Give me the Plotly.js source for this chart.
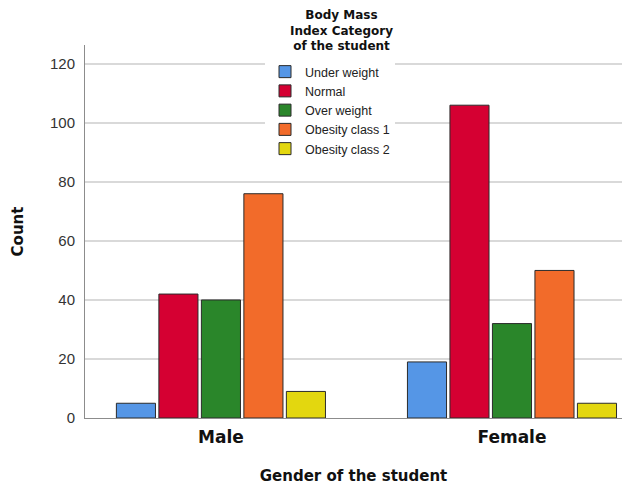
<!DOCTYPE html>
<html><head><meta charset="utf-8">
<script src="https://cdn.plot.ly/plotly-3.0.1.min.js"></script>
<style>html,body{margin:0;padding:0;background:#fff}#chart{width:624px;height:485px}</style>
</head><body><div id="chart"></div>
<script>
var genders = ["Male", "Female"];
var categories = ["Under weight", "Normal", "Over weight", "Obesity class 1", "Obesity class 2"];
var underWeight = [5, 19];
var normal = [42, 106];
var overWeight = [40, 32];
var obesity1 = [76, 50];
var obesity2 = [9, 5];
var seriesValues = [underWeight, normal, overWeight, obesity1, obesity2];
var colors = ["#5596E6", "#D50032", "#2A862A", "#F26B2A", "#E3D70F"];
var legendTitle = "Body Mass<br>Index Category<br>of the student";

var bold = "DejaVu Sans, Verdana, sans-serif";
var plain = "Liberation Sans, Arial, sans-serif";

var traces = categories.map(function(c, i){
  return {type:"bar", name:c, x:genders, y:seriesValues[i],
    marker:{color:colors[i], line:{color:"#2b2b2b", width:1}}};
});

var layout = {
  width:624, height:485,
  margin:{l:85, r:2, t:45, b:67},
  paper_bgcolor:"#fff", plot_bgcolor:"#fff",
  font:{family:plain, color:"#222"},
  barmode:"group", bargap:0.27, bargroupgap:0.08,
  xaxis:{type:"category", range:[-0.467, 1.378], showgrid:false, showline:true, linecolor:"#8c8c8c", linewidth:1,
    ticks:"", ticklabelstandoff:4, tickfont:{size:17, color:"#111", family:bold, weight:"bold"},
    title:{text:"Gender of the student", font:{size:15, color:"#111", family:bold, weight:"bold"}, standoff:25}},
  yaxis:{range:[0, 126.4], tickvals:[0,20,40,60,80,100,120], showgrid:true, gridcolor:"#d9d9d9", gridwidth:2,
    showline:true, linecolor:"#8c8c8c", linewidth:1, zeroline:false, ticks:"", ticklen:0, ticklabelstandoff:6,
    tickfont:{size:15, color:"#333", family:plain},
    title:{text:"Count", font:{size:15, color:"#111", family:bold, weight:"bold"}, standoff:22}},
  legend:{x:(265-85)/537, xanchor:"left", y:(418-57)/373, yanchor:"top", bgcolor:"#fff",
    font:{size:12.5, color:"#222", family:plain}, tracegroupgap:0, itemwidth:30},
  annotations:[{text:legendTitle, xref:"paper", yref:"paper", x:(341-85)/537, y:(418-6)/373, xanchor:"center", yanchor:"top",
    showarrow:false, align:"center", bgcolor:"#fff", font:{size:12, color:"#111", family:bold, weight:"bold"}}],
  showlegend:true
};
Plotly.newPlot("chart", traces, layout, {displayModeBar:false});
</script></body></html>
